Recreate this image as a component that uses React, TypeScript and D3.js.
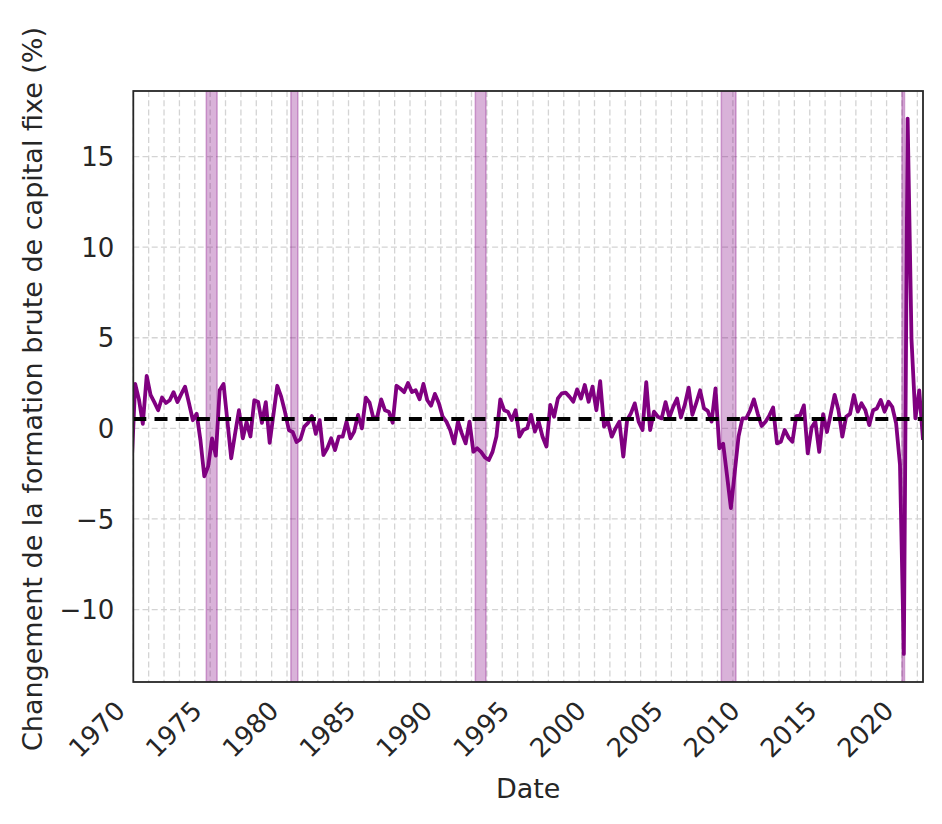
import React from "react";
import * as d3 from "d3";

// ---- data (quarterly, % change of gross fixed capital formation) ----
// first value is the quarter just before 1970 (clipped by the axis)
const FIRST_YEAR = 1969;
const FIRST_MONTH = 10; // mid-quarter month (Nov) of the first observation
const VALUES: number[] = [
  -2.4, 2.45, 1.6, 0.25, 2.9, 1.85, 1.45, 1.0, 1.7, 1.4,
  1.55, 2.0, 1.45, 1.9, 2.3, 1.4, 0.45, 0.8, -0.65, -2.65,
  -2.1, -0.55, -1.5, 2.1, 2.45, 0.4, -1.65, -0.3, 1.0, -0.55,
  0.35, -0.45, 1.55, 1.45, 0.3, 1.45, -0.8, 0.8, 2.35, 1.75,
  0.9, -0.1, -0.2, -0.75, -0.6, 0.1, 0.3, 0.68, -0.3, 0.45,
  -1.47, -1.1, -0.55, -1.2, -0.46, -0.46, 0.37, -0.55, -0.18, 0.74,
  0, 1.7, 1.42, 0.55, 0.64, 1.6, 1.0, 0.92, 0.31, 2.35,
  2.2, 2.0, 2.5, 2.0, 2.1, 1.6, 2.45, 1.55, 1.25, 1.9,
  1.4, 0.64, 0.37, -0.1, -0.83, 0.37, -0.28, -0.83, 0.37, -1.29,
  -1.1, -1.3, -1.6, -1.75, -1.3, -0.45, 1.6, 1.0, 0.92, 0.46,
  1.0, -0.46, -0.09, 0, 0.74, -0.18, 0.37, -0.46, -1.0, 1.29,
  0.64, 1.65, 1.93, 1.97, 1.75, 1.47, 2.15, 1.65, 2.39, 1.47,
  2.3, 1.0, 2.6, 0.1, 0.37, -0.46, 0, 0.37, -1.56, 0.46,
  0.83, 1.38, 0.37, -0.09, 2.55, -0.09, 0.92, 0.64, 0.55, 1.45,
  0.6, 1.2, 1.65, 0.6, 1.3, 2.25, 0.75, 1.4, 2.1, 1.1,
  0.97, 0.37, 2.2, -1.1, -0.85, -2.6, -4.4, -2.4, -0.46, 0.55,
  0.55, 1.0, 1.6, 0.8, 0.13, 0.37, 0.7, 1.15, -0.83, -0.74,
  -0.09, -0.5, -0.74, 0.68, 0.7, 1.27, -1.38, 0.05, 0.37, -1.3,
  0.78, -0.2, 0.8, 1.85, 1.0, -0.46, 0.64, 0.8, 1.84, 0.92,
  1.38, 1.0, 0.18, 1.0, 1.1, 1.56, 0.92, 1.47, 1.19, 0.28,
  -2.0, -12.45, 17.1, 4.9, 0.55, 2.1, -0.64,
];

const MEAN_VALUE = 0.51;

// shaded periods [start, end] as [year, month, day]
const BAND_STARTS: [number, number, number][] = [
  [1974, 9, 1], [1980, 3, 1], [1992, 3, 1], [2008, 3, 1], [2020, 0, 1],
];
const BAND_ENDS: [number, number, number][] = [
  [1975, 5, 15], [1980, 8, 15], [1992, 11, 10], [2009, 2, 15], [2020, 2, 1],
];

const X_TICK_YEARS = [1970, 1975, 1980, 1985, 1990, 1995, 2000, 2005, 2010, 2015, 2020];
const Y_TICKS = [-10, -5, 0, 5, 10, 15];

const W = 942;
const H = 824;
const L = 133.3, R = 923, T = 91, B = 682;
const FONT = "DejaVu Sans, Liberation Sans, sans-serif";
const TXT = "#262626";
const PURPLE = "#800080";

type Pt = { date: Date; v: number };

export default function App() {
  const data: Pt[] = VALUES.map((v, i) => ({
    date: new Date(FIRST_YEAR, FIRST_MONTH + 3 * i, 15),
    v,
  }));

  const x = d3
    .scaleTime()
    .domain([new Date(1970, 0, 1), new Date(2021, 4, 15)])
    .range([L, R]);
  const y = d3.scaleLinear().domain([-14.0, 18.62]).range([B, T]);

  const years = d3.timeYear.range(new Date(1970, 0, 1), new Date(2021, 6, 1));
  const line = d3
    .line<Pt>()
    .x((d) => x(d.date))
    .y((d) => y(d.v));

  const bands = BAND_STARTS.map((s, i) => {
    const e = BAND_ENDS[i];
    return {
      x0: x(new Date(s[0], s[1], s[2])),
      x1: x(new Date(e[0], e[1], e[2])),
    };
  });

  return (
    <svg
      width={W}
      height={H}
      style={{ position: "absolute", left: 0, top: 0, background: "#fff" }}
      fontFamily={FONT}
    >
      <defs>
        <clipPath id="plotclip">
          <rect x={L} y={T} width={R - L} height={B - T} />
        </clipPath>
      </defs>
      <rect x={0} y={0} width={W} height={H} fill="#fff" />

      {/* grid */}
      <g stroke="#d4d4d4" strokeWidth={1.3} strokeDasharray="6,3.2">
        {years.map((d, i) => (
          <line key={"vg" + i} x1={x(d)} x2={x(d)} y1={T} y2={B} />
        ))}
        {Y_TICKS.map((t) => (
          <line key={"hg" + t} x1={L} x2={R} y1={y(t)} y2={y(t)} />
        ))}
      </g>

      {/* shaded periods */}
      <g clipPath="url(#plotclip)">
        {bands.map((b, i) => (
          <rect
            key={"b" + i}
            x={b.x0}
            y={T}
            width={b.x1 - b.x0}
            height={B - T}
            fill={PURPLE}
            fillOpacity={0.3}
            stroke={PURPLE}
            strokeOpacity={0.3}
            strokeWidth={1.6}
          />
        ))}
      </g>

      {/* series */}
      <g clipPath="url(#plotclip)">
        <path
          d={line(data) || ""}
          fill="none"
          stroke={PURPLE}
          strokeWidth={3.8}
          strokeLinejoin="round"
        />
        <line
          x1={L}
          x2={R}
          y1={y(MEAN_VALUE)}
          y2={y(MEAN_VALUE)}
          stroke="#000"
          strokeWidth={4}
          strokeDasharray="13,8.2"
        />
      </g>

      {/* frame */}
      <rect x={L} y={T} width={R - L} height={B - T} fill="none" stroke={TXT} strokeWidth={1.8} />

      {/* y ticks */}
      <g fill={TXT} fontSize={26} textAnchor="end">
        {Y_TICKS.map((t) => (
          <text key={"yt" + t} x={114.4} y={y(t)} dy="0.37em">
            {t < 0 ? "\u2212" + Math.abs(t) : String(t)}
          </text>
        ))}
      </g>

      {/* x ticks */}
      <g fill={TXT} fontSize={26} textAnchor="end">
        {X_TICK_YEARS.map((yr) => {
          const px = x(new Date(yr, 0, 1)) - 6.7;
          const py = 712.3;
          return (
            <text key={"xt" + yr} x={px} y={py} transform={`rotate(-45 ${px} ${py})`}>
              {yr}
            </text>
          );
        })}
      </g>

      {/* axis labels */}
      <text x={(L + R) / 2} y={798} textAnchor="middle" fontSize={27} fill={TXT}>
        Date
      </text>
      <text
        x={0}
        y={0}
        transform={`translate(42 ${389}) rotate(-90)`}
        textAnchor="middle"
        fontSize={27}
        fill={TXT}
      >
        Changement de la formation brute de capital fixe (%)
      </text>
    </svg>
  );
}
